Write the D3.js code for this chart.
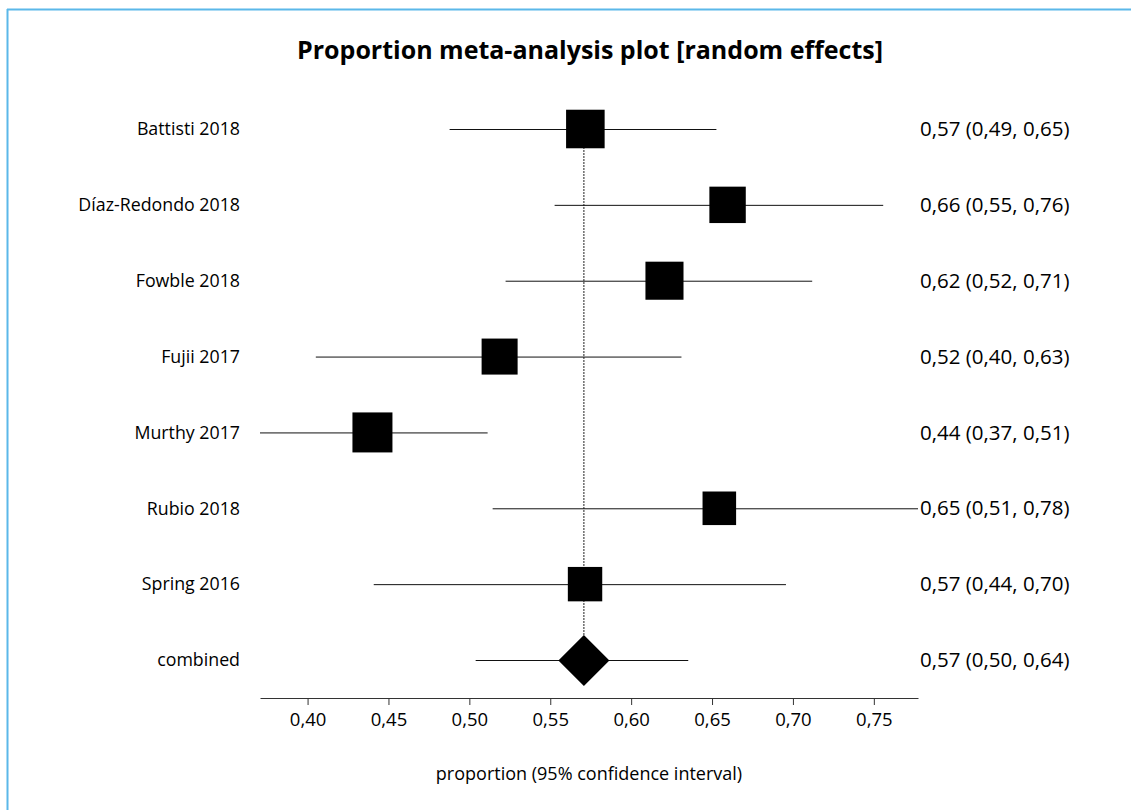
<!DOCTYPE html>
<html>
<head>
<meta charset="utf-8">
<script src="https://cdn.jsdelivr.net/npm/d3@7"></script>
<style>
  body { margin: 0; background: #fff; }
  svg text { font-family: "Open Sans", Lato, sans-serif; fill: #000; }
</style>
</head>
<body>
<div id="chart"></div>
<script>
// study data
let studies = ["Battisti 2018", "Díaz-Redondo 2018", "Fowble 2018", "Fujii 2017", "Murthy 2017", "Rubio 2018", "Spring 2016"];
let estimates = [0.5717, 0.6596, 0.6206, 0.5187, 0.4401, 0.6545, 0.5715];
let lowerCI = [0.4878, 0.5527, 0.5224, 0.4051, 0.3706, 0.5144, 0.4409];
let upperCI = [0.6527, 0.7558, 0.7119, 0.6311, 0.5113, 0.7773, 0.6957];
let weights = [15.7, 14.0, 15.3, 13.7, 16.9, 11.9, 12.5];
let ciLabels = ["0,57 (0,49, 0,65)", "0,66 (0,55, 0,76)", "0,62 (0,52, 0,71)", "0,52 (0,40, 0,63)",
                "0,44 (0,37, 0,51)", "0,65 (0,51, 0,78)", "0,57 (0,44, 0,70)"];

// pooled estimate
let combined = { label: "combined", est: 0.5708, lo: 0.5039, hi: 0.6353, text: "0,57 (0,50, 0,64)" };

let tickValues = [0.40, 0.45, 0.50, 0.55, 0.60, 0.65, 0.70, 0.75];

let W = 1131, H = 810;

let svg = d3.select("#chart").append("svg")
    .attr("width", W)
    .attr("height", H);

// light blue frame (top + left)
svg.append("line").attr("x1", 7).attr("x2", W).attr("y1", 9.5).attr("y2", 9.5)
    .attr("stroke", "#5bb8e9").attr("stroke-width", 2);
svg.append("line").attr("x1", 7.5).attr("x2", 7.5).attr("y1", 9).attr("y2", H)
    .attr("stroke", "#5bb8e9").attr("stroke-width", 2);

svg.append("text")
    .attr("x", 590)
    .attr("y", 59)
    .attr("text-anchor", "middle")
    .style("font-size", "25px")
    .style("font-weight", "bold")
    .text("Proportion meta-analysis plot [random effects]");

let rows = studies.map((s, i) => ({
    label: s, est: estimates[i], lo: lowerCI[i], hi: upperCI[i], w: weights[i], text: ciLabels[i]
}));

let xScale = d3.scaleLinear()
    .domain([d3.min(lowerCI), d3.max(upperCI)])
    .range([260, 918]);

let yScale = d3.scalePoint()
    .domain(studies.concat([combined.label]))
    .range([129, 660]);

let sizeScale = d3.scaleSqrt()
    .domain([0, d3.max(weights)])
    .range([0, 40]);

// x axis
let axisG = svg.append("g")
    .attr("transform", "translate(0,698)")
    .call(d3.axisBottom(xScale)
        .tickValues(tickValues)
        .tickFormat(d => d3.format(".2f")(d).replace(".", ","))
        .tickSize(7)
        .tickSizeOuter(0)
        .tickPadding(8));
axisG.select(".domain").attr("stroke", "#333");
axisG.selectAll(".tick line").attr("stroke", "#333");
axisG.selectAll(".tick text").style("font-size", "18.5px").style("font-family", "'Open Sans', Lato, sans-serif");

svg.append("text")
    .attr("x", 589)
    .attr("y", 780)
    .attr("text-anchor", "middle")
    .style("font-size", "18px")
    .text("proportion (95% confidence interval)");

// dotted line at pooled estimate
svg.append("line")
    .attr("x1", xScale(combined.est)).attr("x2", xScale(combined.est))
    .attr("y1", yScale(studies[0])).attr("y2", yScale(combined.label))
    .attr("stroke", "#222")
    .attr("stroke-width", 1)
    .attr("stroke-dasharray", "2,1");

let g = svg.append("g");

// confidence interval lines
g.selectAll(".ci")
    .data(rows.concat([combined]))
    .enter().append("line")
    .attr("x1", d => xScale(d.lo))
    .attr("x2", d => xScale(d.hi))
    .attr("y1", d => yScale(d.label) + 0.5)
    .attr("y2", d => yScale(d.label) + 0.5)
    .attr("stroke", "#111")
    .attr("stroke-width", 1);

// weighted squares
g.selectAll(".box")
    .data(rows)
    .enter().append("rect")
    .attr("x", d => xScale(d.est) - sizeScale(d.w) / 2)
    .attr("y", d => yScale(d.label) - sizeScale(d.w) / 2)
    .attr("width", d => sizeScale(d.w))
    .attr("height", d => sizeScale(d.w))
    .attr("fill", "#000");

// combined diamond
let cx = xScale(combined.est), cy = yScale(combined.label) + 0.5;
g.append("path")
    .attr("d", `M${cx - 25.5},${cy} L${cx},${cy - 25.5} L${cx + 25.5},${cy} L${cx},${cy + 25.5} Z`)
    .attr("fill", "#000");

// study names on the left
svg.selectAll(".name")
    .data(rows.concat([combined]))
    .enter().append("text")
    .attr("x", 240)
    .attr("y", d => yScale(d.label))
    .attr("dy", "0.35em")
    .attr("text-anchor", "end")
    .style("font-size", "17.8px")
    .text(d => d.label);

// estimate text on the right
svg.selectAll(".val")
    .data(rows.concat([combined]))
    .enter().append("text")
    .attr("x", 920)
    .attr("y", d => yScale(d.label))
    .attr("dy", "0.35em")
    .style("font-size", "20.5px")
    .text(d => d.text);
</script>
</body>
</html>
